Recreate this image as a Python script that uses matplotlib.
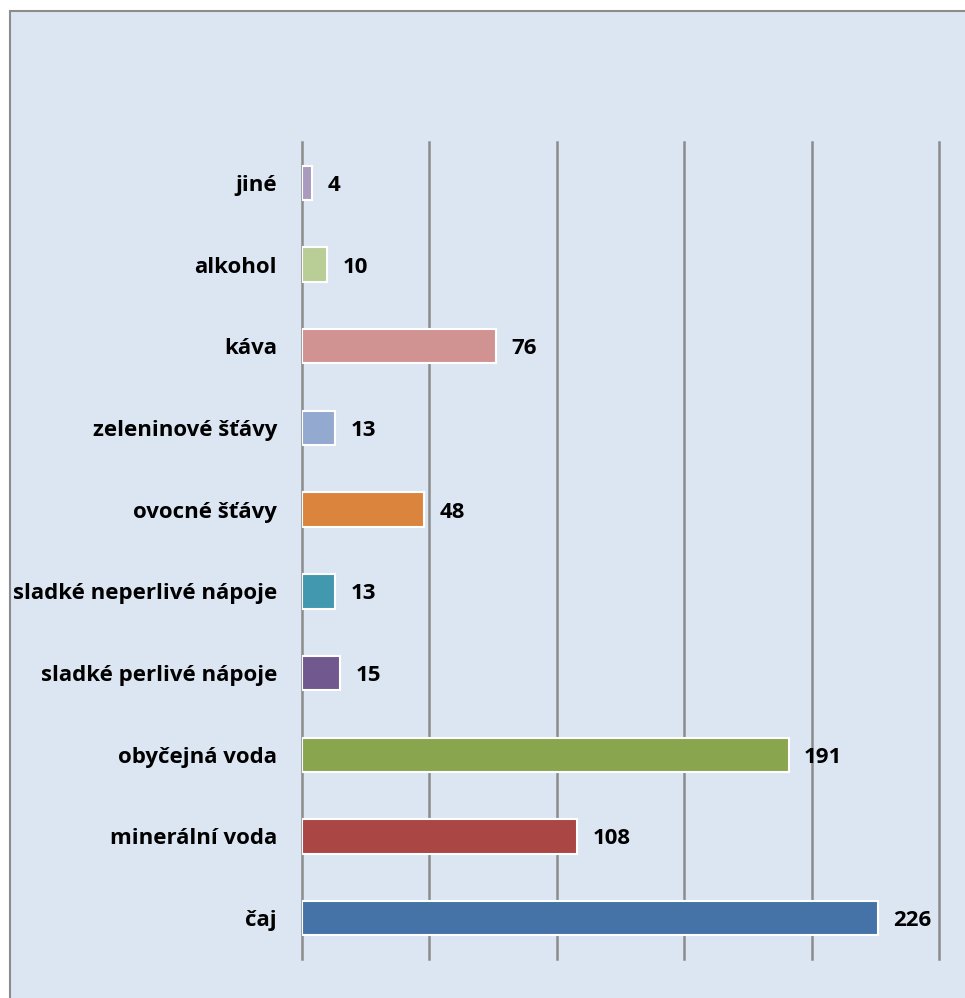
import matplotlib.pyplot as plt
from matplotlib.patches import Rectangle

# napoje, poradi zdola nahoru
kategorie = ["čaj", "minerální voda", "obyčejná voda", "sladké perlivé nápoje",
             "sladké neperlivé nápoje", "ovocné šťávy", "zeleninové šťávy",
             "káva", "alkohol", "jiné"]
pocty = [226, 108, 191, 15, 13, 48, 13, 76, 10, 4]
barvy = ["#4572A7", "#AA4643", "#89A54E", "#71588F", "#4198AF",
         "#DB843D", "#93A9CF", "#D19392", "#B9CD96", "#A99BBD"]
mrizka = [0, 50, 100, 150, 200, 250]

plt.rcParams['font.family'] = ['Open Sans', 'DejaVu Sans']
W, H = 965, 998
fig = plt.figure(figsize=(W / 100, H / 100), dpi=100)
fig.patch.set_facecolor("white")

# pozadi grafu s sedym ramem (jen nahore a vlevo)
fig.patches.append(Rectangle((10 / W, -0.05), 1, 1.05 - 11 / H, transform=fig.transFigure,
                             facecolor="#DCE6F2", edgecolor="#8C8C8C", linewidth=1.5,
                             zorder=-1))

ax = fig.add_axes([302 / W, 1 - 959 / H, (939 - 302) / W, (959 - 142) / H])
ax.set_zorder(1)
ax.set_facecolor("none")
y = range(len(kategorie))
ax.barh(y, pocty, height=0.42, color=barvy, edgecolor="white", linewidth=1.5, zorder=3)

for yi, v in zip(y, pocty):
    ax.text(v + 6, yi - 0.03, str(v), va="center", ha="left", fontsize=16,
            fontweight="bold", color="black")

for g in mrizka:
    ax.axvline(g, color="#8C8C8C", linewidth=1.8, zorder=1, clip_on=False)

ax.set_xlim(0, 250)
ax.set_ylim(-0.5, len(kategorie) - 0.5)
ax.set_xticks([])
ax.set_yticks(list(y))
ax.set_yticklabels(kategorie, fontsize=16, fontweight="bold")
ax.tick_params(axis="y", length=0, pad=18)
for s in ax.spines.values():
    s.set_visible(False)

fig.savefig("out.png", dpi=100)
